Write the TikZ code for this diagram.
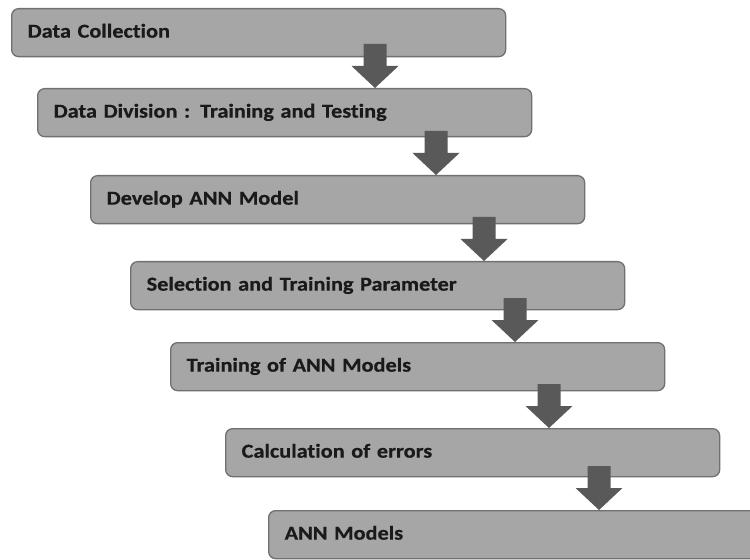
\documentclass[tikz,border=0pt]{standalone}
\usepackage{fontspec}
\setmainfont{Carlito}[Ligatures=NoCommon, FakeStretch=1.13, BoldFeatures={FakeBold=0.6}]
\usetikzlibrary{calc}
\definecolor{boxfill}{HTML}{A6A6A6}
\definecolor{boxline}{HTML}{707070}
\definecolor{arrowfill}{HTML}{595959}
\definecolor{txt}{HTML}{1A1A1A}
\tikzset{
  stepbox/.style={draw=boxline, line width=1.3bp, fill=boxfill, rounded corners=7bp,
    anchor=north west, minimum width=494bp, minimum height=48bp,
    text width=462bp, align=left, inner xsep=15bp, inner ysep=0bp,
    text height=14bp, text depth=4bp,
    font=\fontsize{19.8}{22}\selectfont\bfseries, text=txt},
  downarrow/.style={fill=arrowfill}
}
\newcommand{\bigarrow}[1]{%
  \fill[downarrow] (#1) -- ++(-23.5,-22) -- ++(12,0) -- ++(0,-22) -- ++(23,0)
    -- ++(0,22) -- ++(12,0) -- cycle;}
\begin{document}
\begin{tikzpicture}[x=1bp,y=-1bp]
\useasboundingbox[fill=white] (0,0) rectangle (750,560);
\node[stepbox] (b1) at (11,8) {Data Collection};
\node[stepbox] (b2) at (37,88) {Data Division : Training and Testing};
\node[stepbox] (b3) at (90,175) {Develop ANN Model};
\node[stepbox] (b4) at (130,261) {Selection and Training Parameter};
\node[stepbox] (b5) at (170,342) {Training of ANN Models};
\node[stepbox] (b6) at (225,428) {Calculation of errors};
\node[stepbox] (b7) at (268,510) {ANN Models};
\coordinate (t1) at ($(b2.north west)+(338,0)$);
\coordinate (t2) at ($(b3.north west)+(346,0)$);
\coordinate (t3) at ($(b4.north west)+(354,0)$);
\coordinate (t4) at ($(b5.north west)+(345,0)$);
\coordinate (t5) at ($(b6.north west)+(324,0)$);
\coordinate (t6) at ($(b7.north west)+(331,0)$);
\bigarrow{t1}
\bigarrow{t2}
\bigarrow{t3}
\bigarrow{t4}
\bigarrow{t5}
\bigarrow{t6}
\end{tikzpicture}
\end{document}
